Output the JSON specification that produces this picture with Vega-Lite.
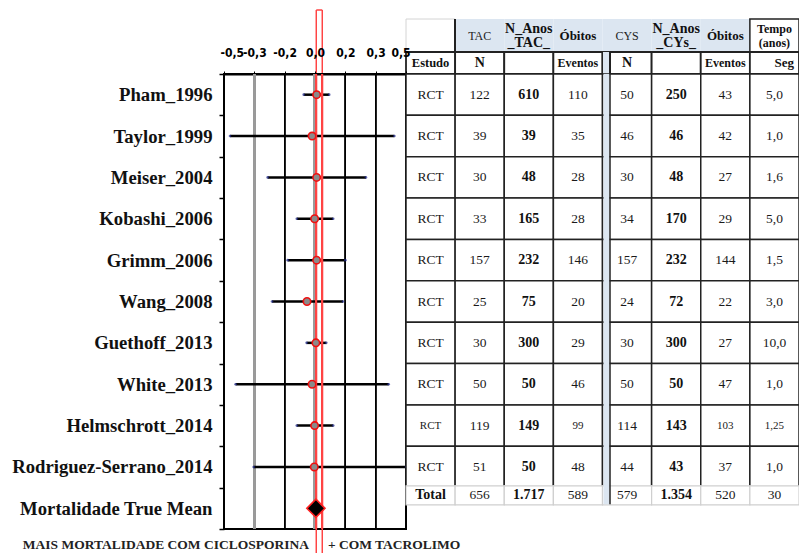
{
  "$schema": "https://vega.github.io/schema/vega-lite/v6.json",
  "background": "white",
  "padding": {"left": 10, "top": 8, "right": 0, "bottom": 0},
  "bounds": "flush",
  "spacing": 0,
  "columns": 2,
  "datasets": {
    "forest": [
      {"study": "Pham_1996", "kind": "study", "est": 0.009, "lo": -0.062, "hi": 0.078},
      {"study": "Taylor_1999", "kind": "study", "est": -0.016, "lo": -0.467, "hi": 0.436},
      {"study": "Meiser_2004", "kind": "study", "est": 0.009, "lo": -0.26, "hi": 0.28},
      {"study": "Kobashi_2006", "kind": "study", "est": -0.002, "lo": -0.1, "hi": 0.1},
      {"study": "Grimm_2006", "kind": "study", "est": 0.009, "lo": -0.15, "hi": 0.167},
      {"study": "Wang_2008", "kind": "study", "est": -0.044, "lo": -0.236, "hi": 0.154},
      {"study": "Guethoff_2013", "kind": "study", "est": 0.005, "lo": -0.046, "hi": 0.062},
      {"study": "White_2013", "kind": "study", "est": -0.016, "lo": -0.436, "hi": 0.405},
      {"study": "Helmschrott_2014", "kind": "study", "est": -0.002, "lo": -0.1, "hi": 0.1},
      {"study": "Rodriguez-Serrano_2014", "kind": "study", "est": -0.004, "lo": -0.337, "hi": 0.5},
      {"study": "Mortalidade True Mean", "kind": "pooled", "est": 0.005, "lo": null, "hi": null}
    ],
    "header": [
      {"col": "Estudo", "h1": "", "h2": "Estudo"},
      {"col": "N_TAC", "h1": "TAC", "h2": "N"},
      {"col": "Anos_TAC", "h1": "N_Anos\n_TAC_", "h2": ""},
      {"col": "Ev_TAC", "h1": "Óbitos", "h2": "Eventos"},
      {"col": "N_CYS", "h1": "CYS", "h2": "N"},
      {"col": "Anos_CYS", "h1": "N_Anos\n_CYs_", "h2": ""},
      {"col": "Ev_CYS", "h1": "Óbitos", "h2": "Eventos"},
      {"col": "Seg", "h1": "Tempo\n(anos)", "h2": "Seg"}
    ],
    "table": [
      {"study": "Pham_1996", "Estudo": "RCT", "N_TAC": "122", "Anos_TAC": "610", "Ev_TAC": "110", "N_CYS": "50", "Anos_CYS": "250", "Ev_CYS": "43", "Seg": "5,0"},
      {"study": "Taylor_1999", "Estudo": "RCT", "N_TAC": "39", "Anos_TAC": "39", "Ev_TAC": "35", "N_CYS": "46", "Anos_CYS": "46", "Ev_CYS": "42", "Seg": "1,0"},
      {"study": "Meiser_2004", "Estudo": "RCT", "N_TAC": "30", "Anos_TAC": "48", "Ev_TAC": "28", "N_CYS": "30", "Anos_CYS": "48", "Ev_CYS": "27", "Seg": "1,6"},
      {"study": "Kobashi_2006", "Estudo": "RCT", "N_TAC": "33", "Anos_TAC": "165", "Ev_TAC": "28", "N_CYS": "34", "Anos_CYS": "170", "Ev_CYS": "29", "Seg": "5,0"},
      {"study": "Grimm_2006", "Estudo": "RCT", "N_TAC": "157", "Anos_TAC": "232", "Ev_TAC": "146", "N_CYS": "157", "Anos_CYS": "232", "Ev_CYS": "144", "Seg": "1,5"},
      {"study": "Wang_2008", "Estudo": "RCT", "N_TAC": "25", "Anos_TAC": "75", "Ev_TAC": "20", "N_CYS": "24", "Anos_CYS": "72", "Ev_CYS": "22", "Seg": "3,0"},
      {"study": "Guethoff_2013", "Estudo": "RCT", "N_TAC": "30", "Anos_TAC": "300", "Ev_TAC": "29", "N_CYS": "30", "Anos_CYS": "300", "Ev_CYS": "27", "Seg": "10,0"},
      {"study": "White_2013", "Estudo": "RCT", "N_TAC": "50", "Anos_TAC": "50", "Ev_TAC": "46", "N_CYS": "50", "Anos_CYS": "50", "Ev_CYS": "47", "Seg": "1,0"},
      {"study": "Helmschrott_2014", "Estudo": "RCT", "N_TAC": "119", "Anos_TAC": "149", "Ev_TAC": "99", "N_CYS": "114", "Anos_CYS": "143", "Ev_CYS": "103", "Seg": "1,25"},
      {"study": "Rodriguez-Serrano_2014", "Estudo": "RCT", "N_TAC": "51", "Anos_TAC": "50", "Ev_TAC": "48", "N_CYS": "44", "Anos_CYS": "43", "Ev_CYS": "37", "Seg": "1,0"},
      {"study": "Total", "Estudo": "Total", "N_TAC": "656", "Anos_TAC": "1.717", "Ev_TAC": "589", "N_CYS": "579", "Anos_CYS": "1.354", "Ev_CYS": "520", "Seg": "30"}
    ]
  },
  "concat": [
    {
      "width": 182, "height": 9,
      "data": {"values": [{}]},
      "layer": [
        {"mark": {"type": "rule", "color": "#ff4444", "strokeWidth": 1.5}, "encoding": {"x": {"datum": 0.007, "type": "quantitative", "scale": {"domain": [-0.5, 0.5], "nice": false, "zero": false}, "axis": null}}},
        {"mark": {"type": "rule", "color": "#ff4444", "strokeWidth": 1.5}, "encoding": {"x": {"datum": 0.04, "type": "quantitative", "scale": {"domain": [-0.5, 0.5], "nice": false, "zero": false}, "axis": null}}},
        {"mark": {"type": "rule", "color": "#ff4444", "strokeWidth": 1.5}, "encoding": {
          "x": {"datum": 0.007, "type": "quantitative", "scale": {"domain": [-0.5, 0.5], "nice": false, "zero": false}, "axis": null},
          "x2": {"datum": 0.04},
          "y": {"datum": 1, "type": "quantitative", "scale": {"domain": [0, 1]}, "axis": null}}}
      ]
    },
    {
      "width": 393, "height": 9,
      "data": {"values": [{}]},
      "mark": "text",
      "encoding": {"text": {"value": ""}}
    },
    {
      "width": 182, "height": 33,
      "data": {"values": [{}]},
      "layer": [
        {"mark": {"type": "rule", "color": "#ff4444", "strokeWidth": 1.5}, "encoding": {"x": {"datum": 0.007, "type": "quantitative", "scale": {"domain": [-0.5, 0.5], "nice": false, "zero": false}, "axis": null}}},
        {"mark": {"type": "rule", "color": "#ff4444", "strokeWidth": 1.5}, "encoding": {"x": {"datum": 0.04, "type": "quantitative", "scale": {"domain": [-0.5, 0.5], "nice": false, "zero": false}, "axis": null}}}
      ]
    },
    {
      "width": 393, "height": 33,
      "data": {"name": "header"},
      "layer": [
        {
          "transform": [{"filter": "datum.col !== 'Estudo' && datum.col !== 'Seg'"}],
          "mark": {"type": "rect", "fill": "#dce6f1"},
          "encoding": {"x": {"field": "col", "type": "nominal", "scale": {"type": "band", "domain": ["Estudo", "N_TAC", "Anos_TAC", "Ev_TAC", "N_CYS", "Anos_CYS", "Ev_CYS", "Seg"], "paddingInner": 0, "paddingOuter": 0}, "axis": null}}
        },
        {
          "transform": [{"filter": "datum.col === 'Estudo'"}],
          "mark": {"type": "rect", "fill": "white", "stroke": "#d4d4d4", "strokeWidth": 1},
          "encoding": {"x": {"field": "col", "type": "nominal", "scale": {"type": "band", "domain": ["Estudo", "N_TAC", "Anos_TAC", "Ev_TAC", "N_CYS", "Anos_CYS", "Ev_CYS", "Seg"], "paddingInner": 0, "paddingOuter": 0}, "axis": null}}
        },
        {
          "transform": [{"filter": "datum.col === 'Seg'"}],
          "mark": {"type": "rect", "fill": "white", "stroke": "#222", "strokeWidth": 1.5},
          "encoding": {"x": {"field": "col", "type": "nominal", "scale": {"type": "band", "domain": ["Estudo", "N_TAC", "Anos_TAC", "Ev_TAC", "N_CYS", "Anos_CYS", "Ev_CYS", "Seg"], "paddingInner": 0, "paddingOuter": 0}, "axis": null}}
        },
        {
          "mark": {"type": "rule", "color": "#222", "strokeWidth": 1.5},
          "encoding": {"x": {"datum": "N_TAC", "type": "nominal", "bandPosition": 0, "scale": {"type": "band", "domain": ["Estudo", "N_TAC", "Anos_TAC", "Ev_TAC", "N_CYS", "Anos_CYS", "Ev_CYS", "Seg"], "paddingInner": 0, "paddingOuter": 0}, "axis": null}}
        },
        {
          "transform": [{"filter": "datum.col === 'N_TAC' || datum.col === 'N_CYS'"}],
          "mark": {"type": "text", "font": "Liberation Serif", "fontSize": 12, "color": "#222"},
          "encoding": {
            "x": {"field": "col", "type": "nominal", "scale": {"type": "band", "domain": ["Estudo", "N_TAC", "Anos_TAC", "Ev_TAC", "N_CYS", "Anos_CYS", "Ev_CYS", "Seg"], "paddingInner": 0, "paddingOuter": 0}, "axis": null},
            "text": {"field": "h1"}
          }
        },
        {
          "transform": [{"filter": "datum.col === 'Ev_TAC' || datum.col === 'Ev_CYS'"}],
          "mark": {"type": "text", "font": "Liberation Serif", "fontWeight": "bold", "fontSize": 13, "color": "#111"},
          "encoding": {
            "x": {"field": "col", "type": "nominal", "scale": {"type": "band", "domain": ["Estudo", "N_TAC", "Anos_TAC", "Ev_TAC", "N_CYS", "Anos_CYS", "Ev_CYS", "Seg"], "paddingInner": 0, "paddingOuter": 0}, "axis": null},
            "text": {"field": "h1"}
          }
        },
        {
          "transform": [{"filter": "datum.col === 'Anos_TAC' || datum.col === 'Anos_CYS' || datum.col === 'Seg'"}],
          "mark": {"type": "text", "font": "Liberation Serif", "fontWeight": "bold", "color": "#111", "lineBreak": "\n", "lineHeight": 14, "dy": -7},
          "encoding": {
            "x": {"field": "col", "type": "nominal", "scale": {"type": "band", "domain": ["Estudo", "N_TAC", "Anos_TAC", "Ev_TAC", "N_CYS", "Anos_CYS", "Ev_CYS", "Seg"], "paddingInner": 0, "paddingOuter": 0}, "axis": null},
            "text": {"field": "h1"},
            "size": {"condition": {"test": "datum.col === 'Seg'", "value": 12}, "value": 14}
          }
        }
      ]
    },
    {
      "width": 182, "height": 22,
      "data": {"values": [{}]},
      "layer": [
        {"mark": {"type": "rule", "color": "#ff4444", "strokeWidth": 1.5}, "encoding": {"x": {"datum": 0.007, "type": "quantitative", "scale": {"domain": [-0.5, 0.5], "nice": false, "zero": false}, "axis": null}}},
        {"mark": {"type": "rule", "color": "#ff4444", "strokeWidth": 1.5}, "encoding": {"x": {"datum": 0.04, "type": "quantitative", "scale": {"domain": [-0.5, 0.5], "nice": false, "zero": false}, "axis": null}}}
      ]
    },
    {
      "width": 393, "height": 22,
      "data": {"name": "header"},
      "layer": [
        {
          "mark": {"type": "rect", "fill": "white", "stroke": "#222", "strokeWidth": 1.8},
          "encoding": {"x": {"field": "col", "type": "nominal", "scale": {"type": "band", "domain": ["Estudo", "N_TAC", "Anos_TAC", "Ev_TAC", "N_CYS", "Anos_CYS", "Ev_CYS", "Seg"], "paddingInner": 0, "paddingOuter": 0}, "axis": null}}
        },
        {
          "mark": {"type": "rule", "color": "#dce6f1", "strokeWidth": 6, "xOffset": 4},
          "encoding": {"x": {"datum": "N_CYS", "type": "nominal", "bandPosition": 0, "scale": {"type": "band", "domain": ["Estudo", "N_TAC", "Anos_TAC", "Ev_TAC", "N_CYS", "Anos_CYS", "Ev_CYS", "Seg"], "paddingInner": 0, "paddingOuter": 0}, "axis": null}}
        },
        {
          "mark": {"type": "rule", "color": "#222", "strokeWidth": 1.5, "xOffset": 7.5},
          "encoding": {"x": {"datum": "N_CYS", "type": "nominal", "bandPosition": 0, "scale": {"type": "band", "domain": ["Estudo", "N_TAC", "Anos_TAC", "Ev_TAC", "N_CYS", "Anos_CYS", "Ev_CYS", "Seg"], "paddingInner": 0, "paddingOuter": 0}, "axis": null}}
        },
        {
          "transform": [{"filter": "datum.col !== 'Seg'"}],
          "mark": {"type": "text", "font": "Liberation Serif", "fontWeight": "bold", "color": "#111"},
          "encoding": {
            "x": {"field": "col", "type": "nominal", "scale": {"type": "band", "domain": ["Estudo", "N_TAC", "Anos_TAC", "Ev_TAC", "N_CYS", "Anos_CYS", "Ev_CYS", "Seg"], "paddingInner": 0, "paddingOuter": 0}, "axis": null},
            "text": {"field": "h2"},
            "size": {"condition": [{"test": "datum.h2 === 'N'", "value": 14}, {"test": "datum.h2 === 'Eventos'", "value": 12}], "value": 12.5}
          }
        },
        {
          "transform": [{"filter": "datum.col === 'Seg'"}],
          "mark": {"type": "text", "font": "Liberation Serif", "fontWeight": "bold", "color": "#111", "align": "left", "fontSize": 13},
          "encoding": {
            "x": {"field": "col", "type": "nominal", "scale": {"type": "band", "domain": ["Estudo", "N_TAC", "Anos_TAC", "Ev_TAC", "N_CYS", "Anos_CYS", "Ev_CYS", "Seg"], "paddingInner": 0, "paddingOuter": 0}, "axis": null},
            "text": {"field": "h2"}
          }
        }
      ]
    },
    {
      "width": 182, "height": 455,
      "view": {"stroke": "#000", "strokeWidth": 2},
      "data": {"name": "forest"},
      "layer": [
        {
          "transform": [{"filter": "datum.kind === 'study'"}],
          "mark": {"type": "rule", "color": "#000", "strokeWidth": 2.5, "opacity": 0},
          "encoding": {
            "x": {"field": "lo", "type": "quantitative", "scale": {"domain": [-0.5, 0.5], "nice": false, "zero": false},
              "axis": {"orient": "top", "title": null, "values": [-0.5, -0.3333333, -0.1666667, 0, 0.1666667, 0.3333333, 0.5], "tickCount": 20,
                "labelExpr": "replace(replace(format(datum.value, '.1f'), '.', ','), '\u2212', '-')",
                "labelFont": "Liberation Sans Narrow, DejaVu Sans Condensed, Liberation Sans, sans-serif", "labelFontWeight": "bold", "labelFontSize": 12,
                "labelColor": "#000", "labelPadding": 12, "labelOverlap": false, "labelFlush": true, "labelFlushOffset": 4, "labelSeparation": 0,
                "tickSize": 3, "tickColor": "#000", "tickWidth": 1, "domainColor": "#000", "domainWidth": 2,
                "grid": false}},
            "x2": {"field": "hi"},
            "y": {"field": "study", "type": "nominal",
              "scale": {"type": "band", "domain": ["Pham_1996", "Taylor_1999", "Meiser_2004", "Kobashi_2006", "Grimm_2006", "Wang_2008", "Guethoff_2013", "White_2013", "Helmschrott_2014", "Rodriguez-Serrano_2014", "Mortalidade True Mean"], "paddingInner": 0, "paddingOuter": 0},
              "axis": {"orient": "left", "title": null, "domain": false, "ticks": true, "tickBand": "extent", "tickSize": 5, "tickWidth": 1.5, "tickColor": "#000",
                "labelFont": "Liberation Serif", "labelFontWeight": "bold", "labelFontSize": 18.7, "labelColor": "#111", "labelPadding": 7, "labelLimit": 0, "grid": false}}
          }
        },
        {"mark": {"type": "rule", "color": "#000", "strokeWidth": 1}, "encoding": {"x": {"datum": -0.1666667, "type": "quantitative"}}},
        {"mark": {"type": "rule", "color": "#000", "strokeWidth": 1}, "encoding": {"x": {"datum": 0.1666667, "type": "quantitative"}}},
        {"mark": {"type": "rule", "color": "#000", "strokeWidth": 1}, "encoding": {"x": {"datum": 0.3333333, "type": "quantitative"}}},
        {"mark": {"type": "rule", "color": "#9a9a9a", "strokeWidth": 2}, "encoding": {"x": {"datum": -0.3333333, "type": "quantitative"}}},
        {"mark": {"type": "rule", "color": "#000", "strokeWidth": 1.5}, "encoding": {"x": {"datum": 0.5, "type": "quantitative"}}},
        {"mark": {"type": "rule", "color": "#9a9a9a", "strokeWidth": 3}, "encoding": {"x": {"datum": 0, "type": "quantitative"}}},
        {
          "transform": [{"filter": "datum.kind === 'study'"}],
          "mark": {"type": "rule", "color": "#000", "strokeWidth": 2.5},
          "encoding": {
            "x": {"field": "lo", "type": "quantitative"},
            "x2": {"field": "hi"},
            "y": {"field": "study", "type": "nominal"}
          }
        },
        {
          "transform": [{"filter": "datum.kind === 'study'"}],
          "mark": {"type": "point", "filled": true, "color": "#1f2a8a", "size": 7},
          "encoding": {
            "x": {"field": "lo", "type": "quantitative"},
            "y": {"field": "study", "type": "nominal"}
          }
        },
        {
          "transform": [{"filter": "datum.kind === 'study'"}],
          "mark": {"type": "point", "filled": true, "color": "#1f2a8a", "size": 7},
          "encoding": {
            "x": {"field": "hi", "type": "quantitative"},
            "y": {"field": "study", "type": "nominal"}
          }
        },
        {
          "mark": {"type": "rule", "color": "#ff4444", "strokeWidth": 1.5},
          "encoding": {"x": {"datum": 0.007, "type": "quantitative"}}
        },
        {
          "mark": {"type": "rule", "color": "#ff4444", "strokeWidth": 1.5},
          "encoding": {"x": {"datum": 0.04, "type": "quantitative"}}
        },
        {
          "transform": [{"filter": "datum.kind === 'study'"}],
          "mark": {"type": "point", "filled": true, "fill": "#8a8a8a", "stroke": "#ee1111", "strokeWidth": 1.6, "size": 55, "opacity": 1},
          "encoding": {
            "x": {"field": "est", "type": "quantitative"},
            "y": {"field": "study", "type": "nominal"}
          }
        },
        {
          "transform": [{"filter": "datum.kind === 'pooled'"}],
          "mark": {"type": "point", "shape": "diamond", "filled": true, "fill": "#000", "stroke": "#ff2222", "strokeWidth": 1.6, "size": 330, "opacity": 1},
          "encoding": {
            "x": {"field": "est", "type": "quantitative"},
            "y": {"field": "study", "type": "nominal"}
          }
        }
      ]
    },
    {
      "width": 393, "height": 455,
      "data": {"name": "table"},
      "transform": [{"fold": ["Estudo", "N_TAC", "Anos_TAC", "Ev_TAC", "N_CYS", "Anos_CYS", "Ev_CYS", "Seg"]}],
      "layer": [
        {
          "transform": [{"filter": "datum.study !== 'Total'"}],
          "mark": {"type": "rect", "fill": "white", "stroke": "#222", "strokeWidth": 1.5},
          "encoding": {
            "x": {"field": "key", "type": "nominal", "scale": {"type": "band", "domain": ["Estudo", "N_TAC", "Anos_TAC", "Ev_TAC", "N_CYS", "Anos_CYS", "Ev_CYS", "Seg"], "paddingInner": 0, "paddingOuter": 0}, "axis": null},
            "y": {"field": "study", "type": "nominal", "scale": {"type": "band", "domain": ["Pham_1996", "Taylor_1999", "Meiser_2004", "Kobashi_2006", "Grimm_2006", "Wang_2008", "Guethoff_2013", "White_2013", "Helmschrott_2014", "Rodriguez-Serrano_2014", "Total"], "paddingInner": 0, "paddingOuter": 0}, "axis": null}
          }
        },
        {
          "transform": [{"filter": "datum.study === 'Total'"}],
          "mark": {"type": "rect", "fill": "white", "stroke": "#cfcfcf", "strokeWidth": 1.2, "height": {"band": 0.46}, "yOffset": -13},
          "encoding": {
            "x": {"field": "key", "type": "nominal", "scale": {"type": "band", "domain": ["Estudo", "N_TAC", "Anos_TAC", "Ev_TAC", "N_CYS", "Anos_CYS", "Ev_CYS", "Seg"], "paddingInner": 0, "paddingOuter": 0}, "axis": null},
            "y": {"field": "study", "type": "nominal", "scale": {"type": "band", "domain": ["Pham_1996", "Taylor_1999", "Meiser_2004", "Kobashi_2006", "Grimm_2006", "Wang_2008", "Guethoff_2013", "White_2013", "Helmschrott_2014", "Rodriguez-Serrano_2014", "Total"], "paddingInner": 0, "paddingOuter": 0}, "axis": null}
          }
        },
        {
          "data": {"values": [{}]},
          "mark": {"type": "rule", "color": "#dce6f1", "strokeWidth": 6, "xOffset": 4},
          "encoding": {
            "x": {"datum": "N_CYS", "type": "nominal", "bandPosition": 0, "scale": {"type": "band", "domain": ["Estudo", "N_TAC", "Anos_TAC", "Ev_TAC", "N_CYS", "Anos_CYS", "Ev_CYS", "Seg"], "paddingInner": 0, "paddingOuter": 0}, "axis": null},
            "y": {"datum": "Pham_1996", "type": "nominal", "bandPosition": 0, "scale": {"type": "band", "domain": ["Pham_1996", "Taylor_1999", "Meiser_2004", "Kobashi_2006", "Grimm_2006", "Wang_2008", "Guethoff_2013", "White_2013", "Helmschrott_2014", "Rodriguez-Serrano_2014", "Total"], "paddingInner": 0, "paddingOuter": 0}, "axis": null},
            "y2": {"datum": "Total", "bandPosition": 0.4}
          }
        },
        {
          "data": {"values": [{}]},
          "mark": {"type": "rule", "color": "#222", "strokeWidth": 1.5, "xOffset": 7.5},
          "encoding": {
            "x": {"datum": "N_CYS", "type": "nominal", "bandPosition": 0, "scale": {"type": "band", "domain": ["Estudo", "N_TAC", "Anos_TAC", "Ev_TAC", "N_CYS", "Anos_CYS", "Ev_CYS", "Seg"], "paddingInner": 0, "paddingOuter": 0}, "axis": null},
            "y": {"datum": "Pham_1996", "type": "nominal", "bandPosition": 0, "scale": {"type": "band", "domain": ["Pham_1996", "Taylor_1999", "Meiser_2004", "Kobashi_2006", "Grimm_2006", "Wang_2008", "Guethoff_2013", "White_2013", "Helmschrott_2014", "Rodriguez-Serrano_2014", "Total"], "paddingInner": 0, "paddingOuter": 0}, "axis": null},
            "y2": {"datum": "Total", "bandPosition": 0.4}
          }
        },
        {
          "transform": [{"filter": "datum.key !== 'Anos_TAC' && datum.key !== 'Anos_CYS' && datum.study !== 'Total'"}],
          "mark": {"type": "text", "font": "Liberation Serif", "color": "#1a1a1a"},
          "encoding": {
            "x": {"field": "key", "type": "nominal", "scale": {"type": "band", "domain": ["Estudo", "N_TAC", "Anos_TAC", "Ev_TAC", "N_CYS", "Anos_CYS", "Ev_CYS", "Seg"], "paddingInner": 0, "paddingOuter": 0}, "axis": null},
            "y": {"field": "study", "type": "nominal", "scale": {"type": "band", "domain": ["Pham_1996", "Taylor_1999", "Meiser_2004", "Kobashi_2006", "Grimm_2006", "Wang_2008", "Guethoff_2013", "White_2013", "Helmschrott_2014", "Rodriguez-Serrano_2014", "Total"], "paddingInner": 0, "paddingOuter": 0}, "axis": null},
            "text": {"field": "value"},
            "size": {"condition": {"test": "datum.study === 'Helmschrott_2014' && (datum.key === 'Estudo' || datum.key === 'Ev_TAC' || datum.key === 'Ev_CYS' || datum.key === 'Seg')", "value": 11}, "value": 13.5}
          }
        },
        {
          "transform": [{"filter": "(datum.key === 'Anos_TAC' || datum.key === 'Anos_CYS') && datum.study !== 'Total'"}],
          "mark": {"type": "text", "font": "Liberation Serif", "fontWeight": "bold", "color": "#111", "fontSize": 14},
          "encoding": {
            "x": {"field": "key", "type": "nominal", "scale": {"type": "band", "domain": ["Estudo", "N_TAC", "Anos_TAC", "Ev_TAC", "N_CYS", "Anos_CYS", "Ev_CYS", "Seg"], "paddingInner": 0, "paddingOuter": 0}, "axis": null},
            "y": {"field": "study", "type": "nominal", "scale": {"type": "band", "domain": ["Pham_1996", "Taylor_1999", "Meiser_2004", "Kobashi_2006", "Grimm_2006", "Wang_2008", "Guethoff_2013", "White_2013", "Helmschrott_2014", "Rodriguez-Serrano_2014", "Total"], "paddingInner": 0, "paddingOuter": 0}, "axis": null},
            "text": {"field": "value"}
          }
        },
        {
          "transform": [{"filter": "datum.study === 'Total' && datum.key !== 'Anos_TAC' && datum.key !== 'Anos_CYS' && datum.key !== 'Estudo'"}],
          "mark": {"type": "text", "font": "Liberation Serif", "color": "#1a1a1a", "fontSize": 13.5, "dy": -13},
          "encoding": {
            "x": {"field": "key", "type": "nominal", "scale": {"type": "band", "domain": ["Estudo", "N_TAC", "Anos_TAC", "Ev_TAC", "N_CYS", "Anos_CYS", "Ev_CYS", "Seg"], "paddingInner": 0, "paddingOuter": 0}, "axis": null},
            "y": {"field": "study", "type": "nominal", "scale": {"type": "band", "domain": ["Pham_1996", "Taylor_1999", "Meiser_2004", "Kobashi_2006", "Grimm_2006", "Wang_2008", "Guethoff_2013", "White_2013", "Helmschrott_2014", "Rodriguez-Serrano_2014", "Total"], "paddingInner": 0, "paddingOuter": 0}, "axis": null},
            "text": {"field": "value"}
          }
        },
        {
          "transform": [{"filter": "datum.study === 'Total' && (datum.key === 'Anos_TAC' || datum.key === 'Anos_CYS' || datum.key === 'Estudo')"}],
          "mark": {"type": "text", "font": "Liberation Serif", "fontWeight": "bold", "color": "#111", "fontSize": 14, "dy": -13},
          "encoding": {
            "x": {"field": "key", "type": "nominal", "scale": {"type": "band", "domain": ["Estudo", "N_TAC", "Anos_TAC", "Ev_TAC", "N_CYS", "Anos_CYS", "Ev_CYS", "Seg"], "paddingInner": 0, "paddingOuter": 0}, "axis": null},
            "y": {"field": "study", "type": "nominal", "scale": {"type": "band", "domain": ["Pham_1996", "Taylor_1999", "Meiser_2004", "Kobashi_2006", "Grimm_2006", "Wang_2008", "Guethoff_2013", "White_2013", "Helmschrott_2014", "Rodriguez-Serrano_2014", "Total"], "paddingInner": 0, "paddingOuter": 0}, "axis": null},
            "text": {"field": "value"}
          }
        }
      ]
    },
    {
      "width": 182, "height": 25,
      "data": {"values": [{}]},
      "layer": [
        {"mark": {"type": "rule", "color": "#ff4444", "strokeWidth": 1.5}, "encoding": {"x": {"datum": 0.007, "type": "quantitative", "scale": {"domain": [-0.5, 0.5], "nice": false, "zero": false}, "axis": null}}},
        {"mark": {"type": "rule", "color": "#ff4444", "strokeWidth": 1.5}, "encoding": {"x": {"datum": 0.04, "type": "quantitative", "scale": {"domain": [-0.5, 0.5], "nice": false, "zero": false}, "axis": null}}},
        {
          "mark": {"type": "text", "align": "right", "baseline": "middle", "dy": 3, "font": "Liberation Serif", "fontWeight": "bold", "fontSize": 13.5, "color": "#222"},
          "encoding": {
            "x": {"datum": -0.033, "type": "quantitative", "scale": {"domain": [-0.5, 0.5], "nice": false, "zero": false}, "axis": null},
            "text": {"value": "MAIS MORTALIDADE COM CICLOSPORINA"}
          }
        },
        {
          "mark": {"type": "text", "align": "left", "baseline": "middle", "dy": 3, "font": "Liberation Serif", "fontWeight": "bold", "fontSize": 13.5, "color": "#222"},
          "encoding": {
            "x": {"datum": 0.071, "type": "quantitative", "scale": {"domain": [-0.5, 0.5], "nice": false, "zero": false}, "axis": null},
            "text": {"value": "+ COM TACROLIMO"}
          }
        }
      ]
    },
    {
      "width": 393, "height": 25,
      "data": {"values": [{}]},
      "mark": "text",
      "encoding": {"text": {"value": ""}}
    }
  ],
  "config": {
    "view": {"stroke": null},
    "font": "Liberation Serif",
    "axis": {"labelOverlap": false}
  }
}
